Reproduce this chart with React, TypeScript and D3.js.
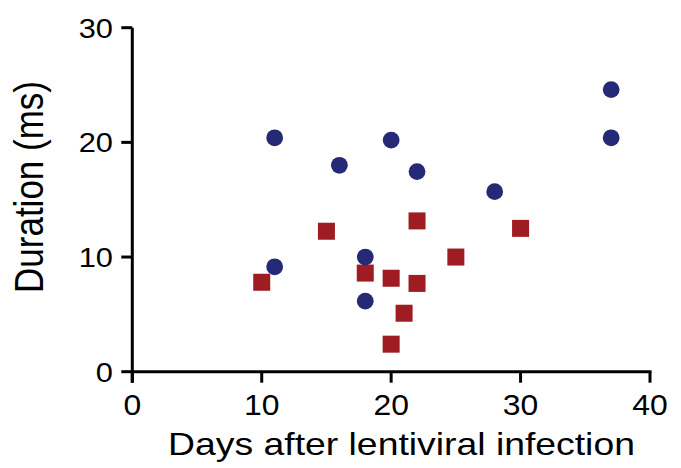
import React from 'react';
import {scaleLinear} from 'd3';

// values
const circleDays = [11, 11, 16, 18, 18, 20, 22, 28, 37, 37];
const circleDuration = [20.4, 9.15, 18.0, 10.0, 6.15, 20.2, 17.45, 15.7, 24.6, 20.4];
const squareDays = [10, 15, 18, 20, 20, 21, 22, 22, 25, 30];
const squareDuration = [7.8, 12.25, 8.6, 8.15, 2.4, 5.1, 13.15, 7.7, 10.0, 12.5];
const xTicks = [0, 10, 20, 30, 40];
const yTicks = [0, 10, 20, 30];
const xTitle = 'Days after lentiviral infection';
const yTitle = 'Duration (ms)';

const blue = '#262a76';
const red = '#9e1c22';
const font = '"Liberation Sans", Arial, Helvetica, sans-serif';

const App = () => {
    const width = 681, height = 468;
    const xScale = scaleLinear().domain([0, 40]).range([132.3, 650]);
    const yScale = scaleLinear().domain([0, 30]).range([371.7, 27.7]);
    const tickLen = 11;
    const r = 8.4, side = 17;

    return (
        <svg width={width} height={height} style={{position: 'absolute', left: 0, top: 0}}>
            <rect width={width} height={height} fill="white"/>
            {/* y axis */}
            <line x1={xScale(0)} x2={xScale(0)} y1={yScale(30)} y2={yScale(0) + tickLen} stroke="black" strokeWidth={3}/>
            {yTicks.map(t => (
                <g key={'y' + t}>
                    <line x1={xScale(0) - tickLen} x2={xScale(0)} y1={yScale(t)} y2={yScale(t)} stroke="black" strokeWidth={3}/>
                    <text transform={`translate(113,${yScale(t) + 10}) scale(1.1,1)`} textAnchor="end"
                          fontFamily={font} fontSize={28} fill="black">{t}</text>
                </g>
            ))}
            {/* x axis */}
            <line x1={xScale(0)} x2={xScale(40) + 1.5} y1={yScale(0)} y2={yScale(0)} stroke="black" strokeWidth={3}/>
            {xTicks.map(t => (
                <g key={'x' + t}>
                    <line x1={xScale(t)} x2={xScale(t)} y1={yScale(0)} y2={yScale(0) + tickLen} stroke="black" strokeWidth={3}/>
                    <text transform={`translate(${xScale(t)},415) scale(1.1,1)`} textAnchor="middle"
                          fontFamily={font} fontSize={29} fill="black">{t}</text>
                </g>
            ))}
            <text transform="translate(401.5,455) scale(1.167,1)" textAnchor="middle"
                  fontFamily={font} fontSize={32} fill="black">{xTitle}</text>
            <text transform="translate(43,187) rotate(-90) scale(1,1.17)" textAnchor="middle"
                  fontFamily={font} fontSize={35} fill="black">{yTitle}</text>
            {/* markers */}
            {squareDays.map((d, i) => (
                <rect key={'s' + i} x={xScale(d) - side / 2} y={yScale(squareDuration[i]) - side / 2}
                      width={side} height={side} fill={red}/>
            ))}
            {circleDays.map((d, i) => (
                <circle key={'c' + i} cx={xScale(d)} cy={yScale(circleDuration[i])} r={r} fill={blue}/>
            ))}
        </svg>
    );
};

export default App;
